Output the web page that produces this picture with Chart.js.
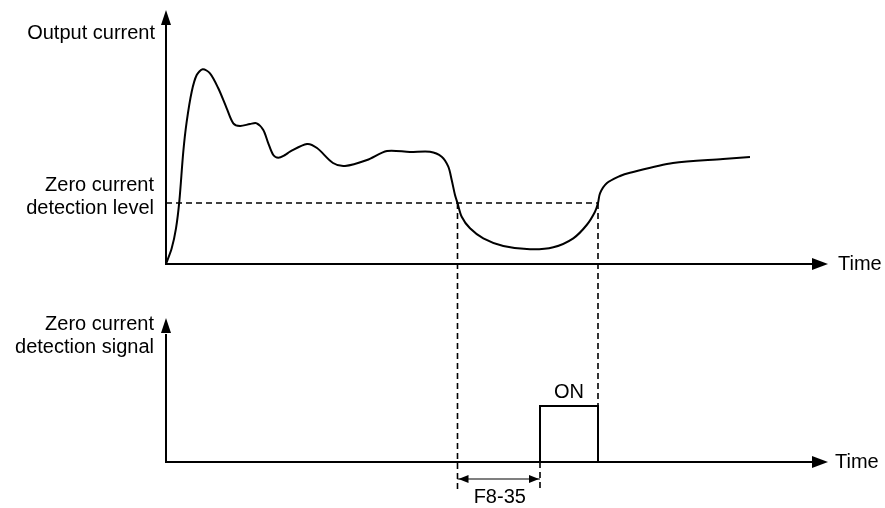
<!DOCTYPE html>
<html>
<head>
<meta charset="utf-8">
<script src="https://cdn.jsdelivr.net/npm/chart.js@4/dist/chart.umd.min.js"></script>
<style>
  body { margin: 0; background: #fff; }
  #wrap { width: 885px; height: 508px; }
</style>
</head>
<body>
<div id="wrap"><canvas id="grafik"></canvas></div>
<script>
// time axis units (0 = origin), current and signal values
const zamanOut = [0, 2.85, 5, 6.65, 8.65, 10.35, 12.85, 15.35, 18.35, 22, 26.15, 30.35, 33.65, 37, 42, 45.35, 48.65, 51.15, 53.65, 56.15, 59.5, 62, 70.5, 75.5, 83.5, 89.5, 100.5, 110.5, 122, 132, 137.85, 141.15, 142.85, 144.5, 145.75, 147.85, 152, 158.65, 168.65, 182, 193.65, 203.65, 210.35, 214.5, 216, 217, 220.35, 227, 232, 253.5, 278.5, 292];
const akimOut = [0, 7.85, 17.85, 31.15, 56.15, 71.15, 86.15, 94.5, 97.35, 95.35, 87.85, 77.85, 70.35, 69, 70, 70.35, 67, 60.35, 54.5, 53.15, 54.5, 56.15, 60, 58, 50.5, 49, 52, 56.5, 56, 56.15, 53.65, 48.65, 42, 34.5, 30.5, 23.65, 17.85, 12.85, 9, 7.35, 8.35, 12.85, 19.5, 26.15, 30.5, 35.35, 40.35, 44, 45.65, 50.5, 52.5, 53.5];
const sifirSeviye = 30.5;
const tDusus = 145.75;   // current falls below level
const tOn = 187;         // signal turns ON after F8-35
const tYukselis = 216;   // current rises above level
const sinyalOn = 28;
const zamanSon = 331;

const xy = (xs, ys) => xs.map((x, i) => ({ x: x, y: ys[i] }));

const cizgi = {
    showLine: true, pointRadius: 0, borderColor: '#000', borderWidth: 1.6,
    borderDash: [6, 4], fill: false
};

const eksenler = {
    id: 'eksenler',
    afterDraw(chart) {
        const c = chart.ctx;
        const sx = chart.scales.x, sy = chart.scales.y, ss = chart.scales.s;
        const x0 = sx.getPixelForValue(0);
        const xEnd = sx.getPixelForValue(zamanSon);
        const y0 = sy.getPixelForValue(0);
        const s0 = ss.getPixelForValue(0);
        c.save();
        c.strokeStyle = '#000';
        c.fillStyle = '#000';
        c.lineWidth = 2;
        // axes
        c.beginPath();
        c.moveTo(x0, chart.chartArea.top + 12); c.lineTo(x0, y0); c.lineTo(xEnd - 14, y0);
        c.moveTo(x0, ss.getPixelForValue(64)); c.lineTo(x0, s0); c.lineTo(xEnd - 14, s0);
        c.stroke();
        const okYukari = (x, y) => { c.beginPath(); c.moveTo(x, y); c.lineTo(x - 5, y + 15); c.lineTo(x + 5, y + 15); c.closePath(); c.fill(); };
        const okSag = (x, y) => { c.beginPath(); c.moveTo(x, y); c.lineTo(x - 16, y - 6); c.lineTo(x - 16, y + 6); c.closePath(); c.fill(); };
        okYukari(x0, chart.chartArea.top);
        okYukari(x0, ss.getPixelForValue(72));
        okSag(xEnd, y0);
        okSag(xEnd, s0);
        // F8-35 dimension arrows
        const ya = ss.getPixelForValue(-8.5);
        const xa = sx.getPixelForValue(tDusus), xb = sx.getPixelForValue(tOn);
        c.lineWidth = 1.2;
        c.beginPath(); c.moveTo(xa, ya); c.lineTo(xb, ya); c.stroke();
        c.beginPath(); c.moveTo(xa + 1, ya); c.lineTo(xa + 11, ya - 4); c.lineTo(xa + 11, ya + 4); c.closePath(); c.fill();
        c.beginPath(); c.moveTo(xb - 1, ya); c.lineTo(xb - 11, ya - 4); c.lineTo(xb - 11, ya + 4); c.closePath(); c.fill();

        // texts
        c.font = '20px "Liberation Sans", Arial, sans-serif';
        c.textBaseline = 'middle';
        c.textAlign = 'right';
        c.fillText('Output current', x0 - 11, 33);
        c.fillText('Zero current', x0 - 12, 185);
        c.fillText('detection level', x0 - 12, 208);
        c.fillText('Zero current', x0 - 12, 324);
        c.fillText('detection signal', x0 - 12, 347);
        c.textAlign = 'left';
        c.fillText('Time', xEnd + 10, y0);
        c.fillText('Time', xEnd + 7, s0);
        c.textAlign = 'center';
        c.fillText('ON', sx.getPixelForValue((tOn + tYukselis) / 2), ss.getPixelForValue(sinyalOn) - 14);
        c.fillText('F8-35', sx.getPixelForValue((tDusus + tOn) / 2) + 1, 497);
        c.restore();
    }
};

const grf = document.getElementById('grafik').getContext('2d');
new Chart(grf, {
    type: 'scatter',
    data: {
        datasets: [
            {
                data: xy(zamanOut, akimOut), yAxisID: 'y', showLine: true, pointRadius: 0,
                borderColor: '#000', borderWidth: 2, tension: 0.3, fill: false
            },
            Object.assign({}, cizgi, { data: [{ x: 0, y: sifirSeviye }, { x: tYukselis, y: sifirSeviye }], yAxisID: 'y' }),
            Object.assign({}, cizgi, { data: [{ x: tDusus, y: 129.5 }, { x: tDusus, y: -15 }], yAxisID: 's' }),
            Object.assign({}, cizgi, { data: [{ x: tYukselis, y: 129.5 }, { x: tYukselis, y: sinyalOn }], yAxisID: 's' }),
            Object.assign({}, cizgi, { data: [{ x: tOn, y: 0 }, { x: tOn, y: -15 }], yAxisID: 's' }),
            {
                data: [{ x: tOn, y: 0 }, { x: tOn, y: sinyalOn }, { x: tYukselis, y: sinyalOn }, { x: tYukselis, y: 0 }],
                yAxisID: 's', showLine: true, pointRadius: 0, borderColor: '#000', borderWidth: 2, tension: 0, fill: false
            }
        ]
    },
    options: {
        responsive: true,
        maintainAspectRatio: false,
        animation: false,
        layout: { padding: { left: 166, right: 15, top: 10, bottom: 16 } },
        scales: {
            x: { type: 'linear', min: 0, max: 352, display: false },
            y: { type: 'linear', min: -114, max: 127, display: false },
            s: { type: 'linear', min: -15, max: 226, display: false }
        },
        plugins: { legend: { display: false }, tooltip: { enabled: false } }
    },
    plugins: [eksenler]
});
</script>
</body>
</html>
